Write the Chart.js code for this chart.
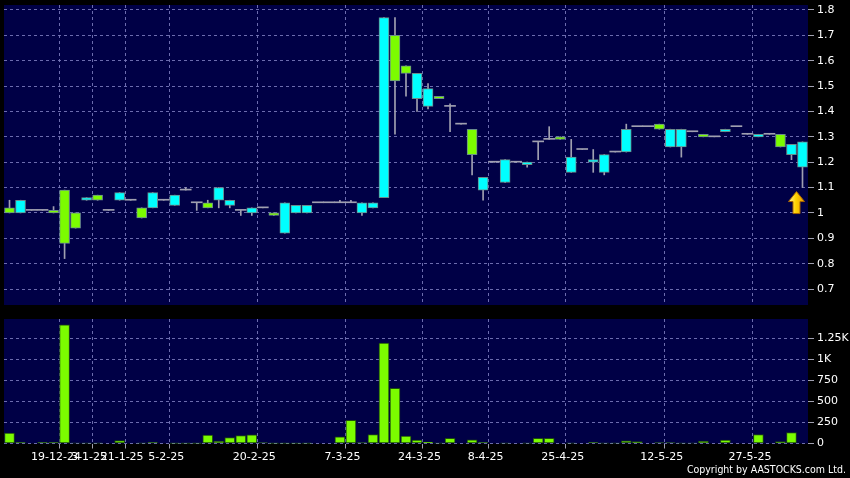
<!DOCTYPE html>
<html>
<head>
<meta charset="utf-8">
<script src="https://cdn.jsdelivr.net/npm/chart.js@4/dist/chart.umd.min.js"></script>
<style>
  html, body { margin: 0; padding: 0; background: #000; }
  body { width: 850px; height: 478px; position: relative; overflow: hidden; }
  #priceWrap { position: absolute; left: 0; top: 0; width: 850px; height: 311px; }
  #volWrap { position: absolute; left: 0; top: 311px; width: 850px; height: 167px; }
  #copy { position: absolute; right: 4px; top: 463px; color: #fff; font-family: "DejaVu Sans Condensed", "DejaVu Sans", sans-serif; font-stretch: condensed; font-size: 10.5px; white-space: nowrap; }
</style>
</head>
<body>
<div id="priceWrap"><canvas id="price" width="850" height="311"></canvas></div>
<div id="volWrap"><canvas id="vol" width="850" height="167"></canvas></div>
<div id="copy">Copyright by AASTOCKS.com Ltd.</div>
<script>
// ---- data (one entry per chart slot) ----
const opens  = [1.02,1.00,1.01,1.01,1.01,1.09,1.00,1.05,1.07,1.01,1.05,1.05,1.02,1.02,1.05,1.03,1.09,1.04,1.04,1.05,1.03,1.01,1.00,1.02,1.00,0.92,1.00,1.00,1.04,1.04,1.04,1.04,1.00,1.02,1.06,1.70,1.58,1.45,1.42,1.46,1.42,1.35,1.33,1.09,1.20,1.12,1.20,1.19,1.28,1.29,1.30,1.16,1.25,1.20,1.16,1.24,1.24,1.34,1.34,1.35,1.26,1.26,1.32,1.31,1.30,1.32,1.34,1.31,1.30,1.31,1.31,1.23,1.18];
const highs  = [1.05,1.05,1.01,1.01,1.025,1.09,1.00,1.06,1.07,1.01,1.08,1.05,1.02,1.08,1.05,1.07,1.10,1.04,1.05,1.10,1.05,1.01,1.02,1.02,1.00,1.04,1.03,1.03,1.04,1.04,1.05,1.05,1.04,1.04,1.77,1.77,1.58,1.55,1.51,1.46,1.43,1.35,1.33,1.14,1.20,1.21,1.20,1.20,1.28,1.34,1.30,1.29,1.25,1.25,1.23,1.24,1.35,1.34,1.34,1.35,1.33,1.33,1.32,1.31,1.30,1.33,1.34,1.31,1.31,1.31,1.31,1.27,1.28];
const lows   = [1.00,1.00,1.01,1.01,1.00,0.82,0.94,1.05,1.05,1.01,1.05,1.05,0.98,1.02,1.05,1.03,1.09,1.01,1.02,1.02,1.02,0.99,0.99,1.02,0.99,0.92,1.00,1.00,1.04,1.04,1.04,1.04,0.99,1.02,1.06,1.31,1.46,1.40,1.41,1.45,1.32,1.35,1.15,1.05,1.20,1.12,1.20,1.18,1.21,1.29,1.29,1.16,1.25,1.16,1.15,1.24,1.24,1.34,1.34,1.33,1.26,1.22,1.32,1.30,1.30,1.32,1.34,1.31,1.30,1.31,1.26,1.21,1.10];
const closes = [1.00,1.05,1.01,1.01,1.00,0.88,0.94,1.06,1.05,1.01,1.08,1.05,0.98,1.08,1.05,1.07,1.09,1.04,1.02,1.10,1.05,1.01,1.02,1.02,0.99,1.04,1.03,1.03,1.04,1.04,1.04,1.04,1.04,1.04,1.77,1.52,1.55,1.55,1.49,1.45,1.42,1.35,1.23,1.14,1.20,1.21,1.20,1.20,1.28,1.29,1.29,1.22,1.25,1.21,1.23,1.24,1.33,1.34,1.34,1.33,1.33,1.33,1.32,1.30,1.30,1.33,1.34,1.31,1.31,1.31,1.26,1.27,1.28];
const volumes = [125,10,0,10,10,1410,5,3,3,0,35,0,3,10,0,2,2,2,100,28,71,95,103,8,2,2,2,2,0,0,80,275,8,105,1195,655,87,40,16,3,60,0,44,12,0,3,0,3,60,60,0,3,0,12,3,3,32,24,0,8,8,3,5,28,0,40,0,0,107,0,24,131,0];

const dateTickSlots  = [4.5, 7.5, 10.5, 14.5, 22.5, 30.5, 37.5, 43.5, 50.5, 59.5, 67.5];
const dateTickLabels = ['19-12-24','3-1-25','21-1-25','5-2-25','20-2-25','7-3-25','24-3-25','8-4-25','25-4-25','12-5-25','27-5-25'];
const priceTicks = [0.7,0.8,0.9,1.0,1.1,1.2,1.3,1.4,1.5,1.6,1.7,1.8];
const priceTickLabels = ['0.7','0.8','0.9','1','1.1','1.2','1.3','1.4','1.5','1.6','1.7','1.8'];
const volumeTicks = [0,250,500,750,1000,1250];
const volumeTickLabels = ['0','250','500','750','1K','1.25K'];

// ---- styling ----
const UP = '#00ffff', DOWN = '#7cfc00', LINE = '#a0a0b0', EDGE = '#6a8c8c';
const PLOT_BG = '#000046', GRID = 'rgba(120,120,185,0.9)';
Chart.defaults.font.family = "'DejaVu Sans', sans-serif";
Chart.defaults.font.size = 11;
Chart.defaults.color = '#ffffff';
Chart.defaults.animation = false;

const n = closes.length;
const bodyPts = [], bodyCols = [], dojiPts = [], wickPts = [];
for (let i = 0; i < n; i++) {
  wickPts.push({x: i, y: [lows[i], highs[i]]});
  if (opens[i] === closes[i]) dojiPts.push({x: i, y: [opens[i], closes[i]]});
  else { bodyPts.push({x: i, y: [opens[i], closes[i]]}); bodyCols.push(closes[i] > opens[i] ? UP : DOWN); }
}
const volPts = volumes.map((v, i) => ({x: i, y: v}));

const bgPlugin = {
  id: 'plotBg',
  beforeDraw(chart) {
    const a = chart.chartArea, c = chart.ctx;
    c.save(); c.fillStyle = PLOT_BG; c.fillRect(a.left, a.top, a.right - a.left, a.bottom - a.top); c.restore();
  }
};
const arrowPlugin = {
  id: 'lastArrow',
  afterDatasetsDraw(chart) {
    const xs = chart.scales.x, ys = chart.scales.y, c = chart.ctx;
    const last = n - 1;
    const x = xs.getPixelForValue(last) - 6;
    const t = ys.getPixelForValue(lows[last]) + 4;
    c.save();
    c.beginPath();
    c.moveTo(x, t); c.lineTo(x + 8, t + 10); c.lineTo(x + 3.5, t + 10); c.lineTo(x + 3.5, t + 22);
    c.lineTo(x - 3.5, t + 22); c.lineTo(x - 3.5, t + 10); c.lineTo(x - 8, t + 10); c.closePath();
    const g = c.createLinearGradient(x - 8, 0, x + 8, 0);
    g.addColorStop(0, '#fff7a8'); g.addColorStop(0.45, '#ffd400'); g.addColorStop(1, '#e89a00');
    c.fillStyle = g; c.fill();
    c.strokeStyle = '#a86400'; c.lineWidth = 1; c.stroke();
    c.restore();
  }
};

function xScale(showLabels) {
  return {
    type: 'linear', min: -0.5, max: n - 0.5, offset: false,
    afterBuildTicks: s => { s.ticks = dateTickSlots.map(v => ({value: v})); },
    afterFit: s => { s.height = showLabels ? 34.5 : 6; s.paddingLeft = 0; s.paddingRight = 0; },
    border: {display: false, dash: [3, 3]},
    grid: {offset: false, color: GRID, drawTicks: showLabels, tickLength: 5, tickColor: LINE, tickBorderDash: []},
    ticks: {
      display: showLabels, autoSkip: false, maxRotation: 0, minRotation: 0, padding: 2, labelOffset: -3, color: '#fff',
      callback: v => { const k = dateTickSlots.indexOf(v); return k >= 0 ? dateTickLabels[k] : ''; }
    }
  };
}
function yScale(min, max, ticks, labels) {
  return {
    position: 'right', min, max,
    afterBuildTicks: s => { s.ticks = ticks.map(v => ({value: v})); },
    afterFit: s => { s.width = 42; s.paddingTop = 0; s.paddingBottom = 0; },
    border: {display: false, dash: [3, 3]},
    grid: {color: GRID, drawTicks: true, tickLength: 6, tickColor: LINE, tickBorderDash: []},
    ticks: {padding: 3, color: '#fff', callback: v => { const k = ticks.indexOf(v); return k >= 0 ? labels[k] : ''; }}
  };
}

new Chart(document.getElementById('price'), {
  type: 'bar',
  data: {
    datasets: [
      {label: 'wick', data: wickPts, backgroundColor: LINE, borderWidth: 0, barThickness: 1, grouped: false, order: 3},
      {label: 'doji', data: dojiPts, backgroundColor: LINE, borderWidth: 0, barThickness: 11, minBarLength: 1, grouped: false, order: 2},
      {label: 'body', data: bodyPts, backgroundColor: bodyCols, borderColor: EDGE, borderWidth: 1, borderSkipped: false, barThickness: 10, minBarLength: 2, grouped: false, order: 1}
    ]
  },
  options: {
    responsive: false, maintainAspectRatio: false,
    layout: {padding: {top: 5, left: 4, right: 0, bottom: 0}},
    plugins: {legend: {display: false}, tooltip: {enabled: false}},
    scales: {
      x: xScale(false),
      y: yScale(0.637, 1.8197, priceTicks, priceTickLabels)
    }
  },
  plugins: [bgPlugin, arrowPlugin]
});

new Chart(document.getElementById('vol'), {
  type: 'bar',
  data: {
    datasets: [
      {label: 'volume', data: volPts, backgroundColor: DOWN, borderColor: '#1e4a10', borderWidth: 1, borderSkipped: false, barThickness: 10, grouped: false}
    ]
  },
  options: {
    responsive: false, maintainAspectRatio: false,
    layout: {padding: {top: 8, left: 4, right: 0, bottom: 0}},
    plugins: {legend: {display: false}, tooltip: {enabled: false}},
    scales: {
      x: xScale(true),
      y: yScale(0, 1480, volumeTicks, volumeTickLabels)
    }
  },
  plugins: [bgPlugin]
});
</script>
</body>
</html>
